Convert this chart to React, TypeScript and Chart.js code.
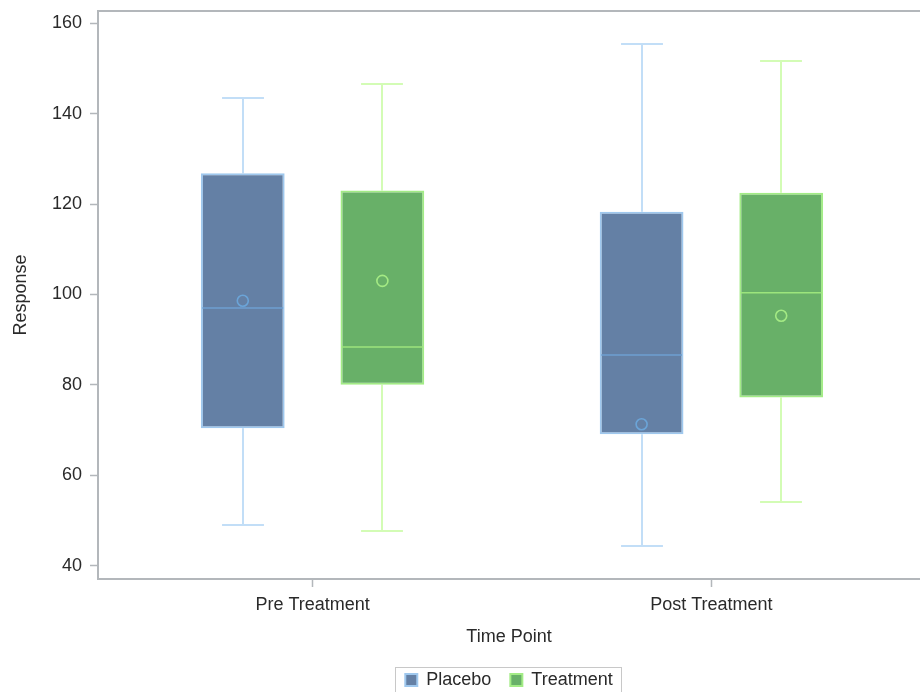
import React, { useEffect, useRef } from "react";
import { Chart, registerables } from "chart.js";

Chart.register(...registerables);

const CATEGORIES = ["Pre Treatment", "Post Treatment"];
const Y_TICKS = [40, 60, 80, 100, 120, 140, 160];

const PLACEBO_MIN = [48.9, 44.3];
const PLACEBO_Q1 = [70.4, 69.1];
const PLACEBO_MEDIAN = [97.0, 86.6];
const PLACEBO_Q3 = [126.8, 118.3];
const PLACEBO_MAX = [143.5, 155.4];
const PLACEBO_MEAN = [98.6, 71.3];

const TREAT_MIN = [47.6, 54.2];
const TREAT_Q1 = [80.0, 77.2];
const TREAT_MEDIAN = [88.4, 100.4];
const TREAT_Q3 = [123.0, 122.5];
const TREAT_MAX = [146.6, 151.7];
const TREAT_MEAN = [103.0, 95.3];

const FONT = "'Liberation Sans', Arial, sans-serif";
const AXIS_GRAY = "#b3b7bb";
const TEXT = "#2a2a2a";

const STYLES = [
  { fill: "#6480a5", border: "#9fc8ee", whisker: "#c2def7", median: "#6e9fd2", mean: "#6ba4d8" },
  { fill: "#68b068", border: "#a3ec86", whisker: "#d3fcb5", median: "#9ce57c", mean: "#a4ea84" },
];

const STATS = [
  { min: PLACEBO_MIN, median: PLACEBO_MEDIAN, max: PLACEBO_MAX, mean: PLACEBO_MEAN, q1: PLACEBO_Q1, q3: PLACEBO_Q3 },
  { min: TREAT_MIN, median: TREAT_MEDIAN, max: TREAT_MAX, mean: TREAT_MEAN, q1: TREAT_Q1, q3: TREAT_Q3 },
];

const boxPlugin = {
  id: "boxExtras",
  beforeDatasetsDraw(chart: any) {
    const ctx = chart.ctx;
    const y = chart.scales.y;
    STATS.forEach((s, di) => {
      const meta = chart.getDatasetMeta(di);
      meta.data.forEach((bar: any, i: number) => {
        const cx = Math.round(bar.x);
        const half = bar.width / 4;
        ctx.save();
        ctx.strokeStyle = STYLES[di].whisker;
        ctx.lineWidth = 2;
        const pMax = Math.round(y.getPixelForValue(s.max[i]));
        const pMin = Math.round(y.getPixelForValue(s.min[i]));
        const pQ3 = y.getPixelForValue(s.q3[i]);
        const pQ1 = y.getPixelForValue(s.q1[i]);
        ctx.beginPath();
        ctx.moveTo(cx, pQ3);
        ctx.lineTo(cx, pMax);
        ctx.moveTo(cx - half, pMax);
        ctx.lineTo(cx + half, pMax);
        ctx.moveTo(cx, pQ1);
        ctx.lineTo(cx, pMin);
        ctx.moveTo(cx - half, pMin);
        ctx.lineTo(cx + half, pMin);
        ctx.stroke();
        ctx.restore();
      });
    });
  },
  afterDatasetsDraw(chart: any) {
    const ctx = chart.ctx;
    const y = chart.scales.y;
    STATS.forEach((s, di) => {
      const meta = chart.getDatasetMeta(di);
      meta.data.forEach((bar: any, i: number) => {
        const cx = bar.x;
        const w = bar.width;
        ctx.save();
        ctx.strokeStyle = STYLES[di].median;
        ctx.lineWidth = 1.5;
        const pMed = y.getPixelForValue(s.median[i]);
        ctx.beginPath();
        ctx.moveTo(cx - w / 2 + 1.5, pMed);
        ctx.lineTo(cx + w / 2 - 1.5, pMed);
        ctx.stroke();
        ctx.strokeStyle = STYLES[di].mean;
        ctx.lineWidth = 1.6;
        ctx.beginPath();
        ctx.arc(cx, y.getPixelForValue(s.mean[i]), 5.5, 0, Math.PI * 2);
        ctx.stroke();
        ctx.restore();
      });
    });
  },
  afterDraw(chart: any) {
    const ctx = chart.ctx;
    const a = chart.chartArea;
    ctx.save();
    ctx.strokeStyle = AXIS_GRAY;
    ctx.lineWidth = 2;
    ctx.beginPath();
    ctx.moveTo(a.left - 1, Math.round(a.top));
    ctx.lineTo(a.right, Math.round(a.top));
    ctx.stroke();
    const lg = chart.legend;
    if (lg && lg.legendHitBoxes && lg.legendHitBoxes.length) {
      const hb = lg.legendHitBoxes;
      const first = hb[0];
      const last = hb[hb.length - 1];
      const left = Math.round(first.left - 10) + 0.5;
      const right = Math.round(last.left + last.width + 8) + 0.5;
      const top = Math.round(first.top + first.height / 2 - 13) + 0.5;
      ctx.strokeStyle = "#c8c8c8";
      ctx.lineWidth = 1;
      ctx.strokeRect(left, top, right - left, 40);
    }
    ctx.restore();
  },
};

export default function App() {
  const ref = useRef<HTMLCanvasElement | null>(null);
  useEffect(() => {
    if (!ref.current) return;
    const chart = new Chart(ref.current, {
      type: "bar",
      data: {
        datasets: [
          {
            label: "Placebo",
            data: PLACEBO_Q1.map((q1, i) => ({ x: i, y: [q1, PLACEBO_Q3[i]] })) as any,
            backgroundColor: STYLES[0].fill,
            borderColor: STYLES[0].border,
            borderWidth: 2,
            borderSkipped: false,
            categoryPercentage: 0.7,
            barPercentage: 0.6,
          },
          {
            label: "Treatment",
            data: TREAT_Q1.map((q1, i) => ({ x: i, y: [q1, TREAT_Q3[i]] })) as any,
            backgroundColor: STYLES[1].fill,
            borderColor: STYLES[1].border,
            borderWidth: 2,
            borderSkipped: false,
            categoryPercentage: 0.7,
            barPercentage: 0.6,
          },
        ],
      },
      options: {
        animation: false,
        responsive: false,
        layout: { padding: { top: 11, left: 0, right: 0, bottom: 0 } },
        plugins: {
          tooltip: { enabled: false },
          legend: {
            position: "bottom",
            fullSize: false,
            maxHeight: 40,
            labels: {
              boxWidth: 12,
              boxHeight: 12,
              padding: 19,
              color: TEXT,
              font: { family: FONT, size: 18 },
            },
          },
        },
        scales: {
          x: {
            type: "linear",
            min: -0.538,
            max: 1.523,
            offset: false,
            afterFit: (s: any) => {
              s.height = 73;
              s.paddingLeft = 0;
              s.paddingRight = 0;
            },
            afterBuildTicks: (s: any) => {
              s.ticks = CATEGORIES.map((_, i) => ({ value: i }));
            },
            ticks: {
              callback: (v: any) => CATEGORIES[v] ?? "",
              color: TEXT,
              font: { family: FONT, size: 18 },
              padding: 7,
              maxRotation: 0,
            },
            grid: { offset: false, drawOnChartArea: false, drawTicks: true, tickLength: 8, tickWidth: 1.5, color: AXIS_GRAY },
            border: { color: AXIS_GRAY, width: 2 },
            title: {
              display: true,
              text: "Time Point",
              color: TEXT,
              font: { family: FONT, size: 18 },
              padding: { top: 0, bottom: 4 },
            },
          },
          y: {
            min: 37.06,
            max: 162.7,
            afterFit: (s: any) => {
              s.width = 98;
              s.paddingTop = 0;
              s.paddingBottom = 0;
            },
            afterBuildTicks: (s: any) => {
              s.ticks = Y_TICKS.map((v) => ({ value: v }));
            },
            ticks: {
              color: TEXT,
              font: { family: FONT, size: 18 },
              padding: 8,
            },
            grid: { drawOnChartArea: false, drawTicks: true, tickLength: 8, tickWidth: 1.5, color: AXIS_GRAY },
            border: { color: AXIS_GRAY, width: 2 },
            title: {
              display: true,
              text: "Response",
              color: TEXT,
              font: { family: FONT, size: 18 },
              padding: { top: 10, bottom: 0 },
            },
          },
        },
      },
      plugins: [boxPlugin],
    });
    return () => chart.destroy();
  }, []);
  return (
    <div style={{ position: "fixed", left: 0, top: 0, width: 920, height: 692, background: "#fff" }}>
      <canvas ref={ref} width={920} height={692} style={{ display: "block" }} />
    </div>
  );
}
